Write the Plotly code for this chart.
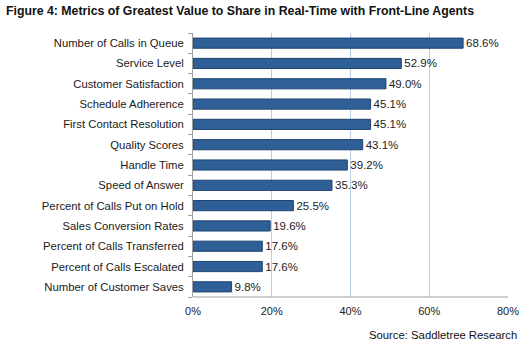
import plotly.graph_objects as go

categories = [
    "Number of Calls in Queue", "Service Level", "Customer Satisfaction",
    "Schedule Adherence", "First Contact Resolution", "Quality Scores",
    "Handle Time", "Speed of Answer", "Percent of Calls Put on Hold",
    "Sales Conversion Rates", "Percent of Calls Transferred",
    "Percent of Calls Escalated", "Number of Customer Saves",
]
values = [68.6, 52.9, 49.0, 45.1, 45.1, 43.1, 39.2, 35.3, 25.5, 19.6, 17.6, 17.6, 9.8]
x_ticks = [0, 20, 40, 60, 80]
x_tick_labels = ["0%", "20%", "40%", "60%", "80%"]

fig = go.Figure(go.Bar(
    y=categories, x=values, orientation="h",
    marker=dict(color="#2F5F97", line=dict(color="#1F4470", width=1)),
    width=0.5,
    text=[f"{v:.1f}%" for v in values], textposition="outside",
    constraintext="none",
    textfont=dict(family="Liberation Sans, Arial", size=11.5, color="#222222"),
    cliponaxis=False,
))

fig.update_layout(
    width=531, height=343,
    margin=dict(l=193, r=13, t=33, b=46),
    paper_bgcolor="white", plot_bgcolor="white",
    showlegend=False,
    font=dict(family="Liberation Sans, Arial", size=11.3, color="#1a1a1a"),
    uniformtext=dict(mode=False) if False else None,
)
fig.update_xaxes(
    range=[0, 80], tickvals=x_ticks, ticktext=x_tick_labels,
    showgrid=True, gridcolor="#B9CDE5", gridwidth=1,
    zeroline=False, showline=False,
    tickfont=dict(size=11, color="#222222"),
    ticks="", ticklabelstandoff=6,
)
fig.update_yaxes(
    categoryorder="array", categoryarray=categories[::-1],
    showline=True, linecolor="#A0A0A0", linewidth=1,
    ticks="outside", tickson="boundaries", ticklen=4, tickcolor="#A0A0A0",
    tickfont=dict(size=11.3, color="#1a1a1a"),
    ticklabelstandoff=6,
)
fig.add_shape(type="line", xref="paper", yref="paper", x0=0, x1=1, y0=0, y1=0,
              line=dict(color="#A0A0A0", width=1))

fig.add_annotation(
    text="<b>Figure 4: Metrics of Greatest Value to Share in Real-Time with Front-Line Agents</b>",
    xref="paper", yref="paper", x=-193/325, y=1, xshift=-2, yshift=33 - 11,
    xanchor="left", yanchor="middle", showarrow=False,
    font=dict(family="Liberation Sans, Arial", size=12.3, color="#111111"),
)
fig.add_annotation(
    text="Source: Saddletree Research",
    xref="paper", yref="paper", x=1, y=0, xshift=11, yshift=-38,
    xanchor="right", yanchor="middle", showarrow=False,
    font=dict(family="Liberation Sans, Arial", size=11.3, color="#111111"),
)

fig.write_html("out.html")
